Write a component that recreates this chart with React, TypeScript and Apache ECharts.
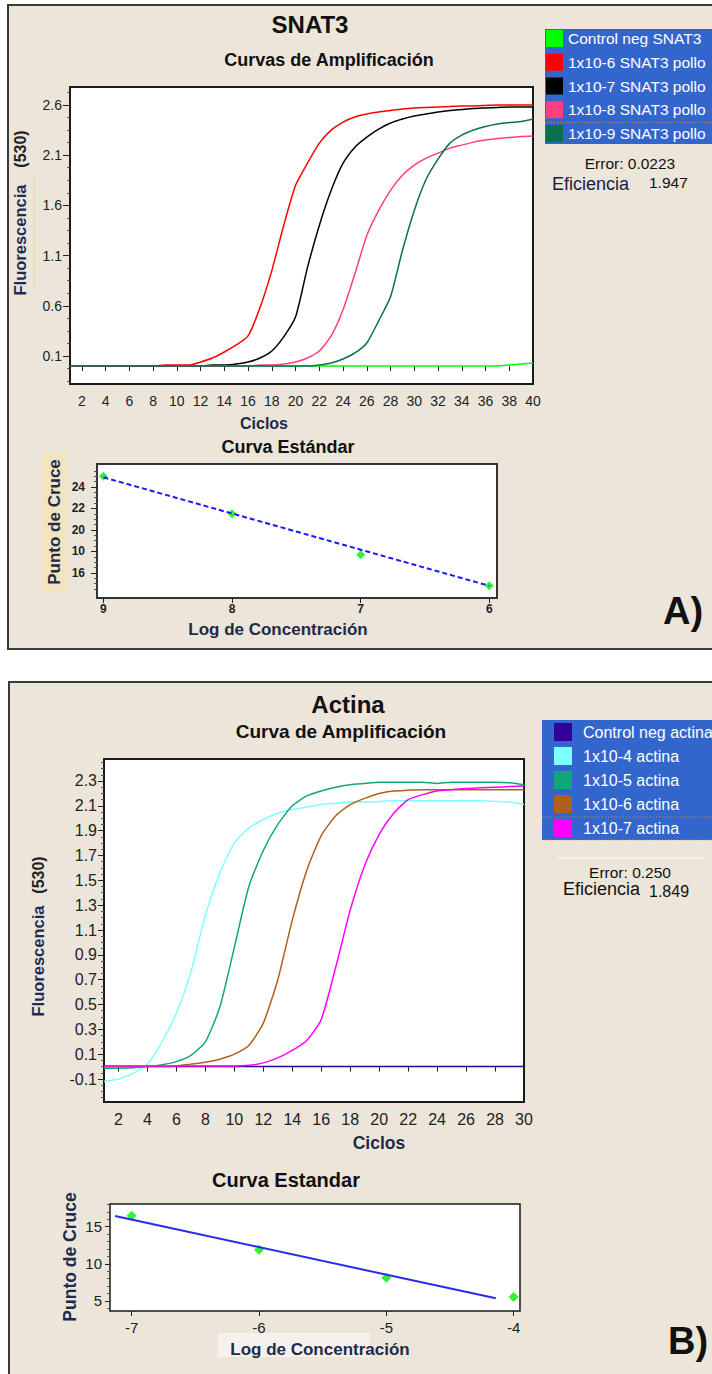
import React, { useEffect, useRef } from "react";
import * as echarts from "echarts";

const FONT = "'Liberation Sans', Arial, sans-serif";

// ---------- Panel A: SNAT3 amplification ----------
const cyclesA = [1, 2, 3, 4, 5, 6, 7, 8, 9, 10, 11, 12, 13, 14, 15, 16, 17, 18, 19, 20, 21, 22, 23, 24, 25, 26, 27, 28, 29, 30, 31, 32, 33, 34, 35, 36, 37, 38, 39, 40];
const ctrlNegSnat3 = [0, 0, 0, 0, 0, 0, 0, 0, 0, 0, 0, 0, 0, 0, 0, 0, 0, 0, 0, 0, 0, 0, 0, 0, 0, 0, 0, 0, 0, 0, 0, 0, 0, 0, 0, 0, 0, 0.01, 0.02, 0.03];
const snat3_e6 = [0, 0, 0, 0, 0, 0, 0, 0, 0.01, 0.01, 0.01, 0.04, 0.08, 0.14, 0.21, 0.3, 0.58, 0.95, 1.4, 1.8, 2.02, 2.22, 2.35, 2.43, 2.48, 2.51, 2.53, 2.545, 2.56, 2.57, 2.575, 2.58, 2.585, 2.59, 2.59, 2.595, 2.6, 2.6, 2.6, 2.6];
const snat3_e7 = [0, 0, 0, 0, 0, 0, 0, 0, 0, 0, 0, 0, 0.01, 0.01, 0.02, 0.04, 0.08, 0.15, 0.29, 0.49, 0.98, 1.4, 1.75, 2.02, 2.18, 2.28, 2.36, 2.42, 2.46, 2.49, 2.51, 2.53, 2.545, 2.555, 2.565, 2.57, 2.575, 2.58, 2.58, 2.58];
const snat3_e8 = [0, 0, 0, 0, 0, 0, 0, 0, 0, 0, 0, 0, 0, 0, 0, 0, 0.01, 0.01, 0.02, 0.04, 0.08, 0.15, 0.3, 0.56, 0.92, 1.3, 1.55, 1.75, 1.9, 2.0, 2.07, 2.12, 2.17, 2.2, 2.23, 2.25, 2.265, 2.275, 2.285, 2.29];
const snat3_e9 = [0, 0, 0, 0, 0, 0, 0, 0, 0, 0, 0, 0, 0, 0, 0, 0, 0, 0, 0, 0, 0, 0.01, 0.03, 0.07, 0.13, 0.23, 0.45, 0.69, 1.15, 1.55, 1.86, 2.06, 2.22, 2.3, 2.35, 2.385, 2.41, 2.425, 2.435, 2.46];
const namesA = ["Control neg SNAT3", "1x10-6 SNAT3 pollo", "1x10-7 SNAT3 pollo", "1x10-8 SNAT3 pollo", "1x10-9 SNAT3 pollo"];
const colorsA = ["#00ff00", "#ff0000", "#000000", "#ff3d85", "#0b7050"];
const xTicksA = [2, 4, 6, 8, 10, 12, 14, 16, 18, 20, 22, 24, 26, 28, 30, 32, 34, 36, 38, 40];
const yTicksA = [0.1, 0.6, 1.1, 1.6, 2.1, 2.6];

// ---------- Panel A: standard curve ----------
const stdA_logConc = [9, 8, 7, 6];
const stdA_cp = [25.0, 21.5, 17.7, 14.8];
const stdA_fitX = [9, 6];
const stdA_fitY = [24.9, 14.8];
const stdA_xTicks = [6, 7, 8, 9];
const stdA_yTicks = [16, 18, 20, 22, 24];
const stdA_yLabels = ["16", "10", "20", "22", "24"];

// ---------- Panel B: Actina amplification ----------
const cyclesB = [1, 2, 3, 4, 5, 6, 7, 8, 9, 10, 11, 12, 13, 14, 15, 16, 17, 18, 19, 20, 21, 22, 23, 24, 25, 26, 27, 28, 29, 30];
const ctrlNegActina = [0, 0, 0, 0, 0, 0, 0, 0, 0, 0, 0, 0, 0, 0, 0, 0, 0, 0, 0, 0, 0, 0, 0, 0, 0, 0, 0, 0, 0, 0];
const actina_e4 = [-0.12, -0.1, -0.055, 0.02, 0.2, 0.43, 0.76, 1.22, 1.56, 1.8, 1.92, 1.99, 2.04, 2.07, 2.09, 2.11, 2.12, 2.13, 2.13, 2.135, 2.14, 2.14, 2.14, 2.14, 2.14, 2.14, 2.14, 2.135, 2.13, 2.11];
const actina_e5 = [-0.014, -0.014, -0.01, 0.0, 0.015, 0.04, 0.09, 0.2, 0.48, 0.96, 1.45, 1.74, 1.95, 2.1, 2.18, 2.22, 2.25, 2.27, 2.28, 2.29, 2.29, 2.29, 2.29, 2.28, 2.29, 2.29, 2.29, 2.29, 2.285, 2.27];
const actina_e6 = [0, 0, 0, 0, 0, 0.005, 0.02, 0.035, 0.06, 0.1, 0.17, 0.35, 0.7, 1.18, 1.58, 1.86, 2.02, 2.11, 2.16, 2.2, 2.22, 2.225, 2.23, 2.23, 2.23, 2.23, 2.23, 2.23, 2.23, 2.23];
const actina_e7 = [0.005, 0.005, 0.005, 0.005, 0.005, 0.005, 0.005, 0.005, 0.005, 0.005, 0.01, 0.03, 0.07, 0.13, 0.21, 0.38, 0.8, 1.26, 1.62, 1.87, 2.04, 2.15, 2.19, 2.22, 2.23, 2.24, 2.245, 2.25, 2.255, 2.26];
const namesB = ["Control neg actina", "1x10-4 actina", "1x10-5 actina", "1x10-6 actina", "1x10-7 actina"];
const colorsB = ["#330099", "#80ffff", "#10a878", "#b0601c", "#ff00ff"];
const xTicksB = [2, 4, 6, 8, 10, 12, 14, 16, 18, 20, 22, 24, 26, 28, 30];
const yTicksB = [-0.1, 0.1, 0.3, 0.5, 0.7, 0.9, 1.1, 1.3, 1.5, 1.7, 1.9, 2.1, 2.3];

// ---------- Panel B: standard curve ----------
const stdB_logConc = [-7, -6, -5, -4];
const stdB_cp = [16.5, 11.9, 8.1, 5.5];
const stdB_fitX = [-7.13, -4.14];
const stdB_fitY = [16.45, 5.33];
const stdB_xTicks = [-7, -6, -5, -4];
const stdB_yTicks = [5, 10, 15];

const zip = (xs: number[], ys: number[]) => xs.map((x, i) => [x, ys[i]]);

function minorTicks(start: number, step: number, min: number, max: number, every: number) {
  const out: number[] = [];
  for (let k = -200; k <= 200; k++) {
    if (k % every === 0) continue;
    const v = +(start + k * step).toFixed(4);
    if (v > min && v < max) out.push(v);
  }
  return out;
}

const tickColor = "#222";

function valueX(gridIndex: number, min: number, max: number, ticks: number[], opts: any = {}) {
  return {
    gridIndex, type: "value", min, max, inverse: !!opts.inverse,
    axisLine: { show: false },
    splitLine: { show: false },
    axisTick: { customValues: ticks, length: opts.tickLen ?? 5, lineStyle: { color: tickColor } },
    axisLabel: {
      customValues: ticks, margin: opts.margin ?? 8, fontSize: opts.fontSize ?? 14,
      fontWeight: opts.fontWeight ?? "normal",
      color: tickColor, fontFamily: FONT,
      formatter: opts.formatter ?? ((v: number) => String(v)),
    },
  };
}

function valueY(gridIndex: number, min: number, max: number, ticks: number[], opts: any = {}) {
  return {
    gridIndex, type: "value", min, max, position: "left",
    axisLine: { show: false },
    splitLine: { show: false },
    axisTick: { customValues: ticks, length: opts.tickLen ?? 6, lineStyle: { color: tickColor } },
    axisLabel: {
      customValues: ticks, margin: opts.margin ?? 8, fontSize: opts.fontSize ?? 14,
      fontWeight: opts.fontWeight ?? "normal",
      color: tickColor, fontFamily: FONT,
      formatter: opts.formatter ?? ((v: number) => String(v)),
    },
  };
}

function minorY(gridIndex: number, min: number, max: number, ticks: number[]) {
  return {
    gridIndex, type: "value", min, max, position: "left", offset: 0,
    axisLine: { show: false },
    splitLine: { show: false },
    axisLabel: { show: false },
    axisTick: { customValues: ticks, length: 3, lineStyle: { color: "#555" } },
  };
}

function lineSeries(name: string, xs: number[], ys: number[], color: string, xi: number, yi: number) {
  return {
    type: "line", name, xAxisIndex: xi, yAxisIndex: yi,
    data: zip(xs, ys), showSymbol: false, symbol: "none",
    smooth: 0.2,
    color, itemStyle: { color }, lineStyle: { color, width: 1.5 },
  };
}

const A_Y_MIN = -0.179, A_Y_MAX = 2.779;
const B_Y_MIN = -0.285, B_Y_MAX = 2.477;
const SA_Y_MIN = 13.67, SA_Y_MAX = 26.14;
const SB_Y_MIN = 3.62, SB_Y_MAX = 18.07;

const txt = (text: string, x: number, y: number, size: number, opts: any = {}) => ({
  type: "text", x, y, z: 100, rotation: opts.rotation ?? 0,
  style: {
    text, fontSize: size, fontWeight: opts.weight ?? "bold", fontFamily: FONT,
    fill: opts.color ?? "#111", textAlign: opts.align ?? "center", textVerticalAlign: "middle",
  },
});

const option: any = {
  animation: false,
  backgroundColor: "#ffffff",
  grid: [
    { left: 70, top: 87, width: 463, height: 297, show: true, backgroundColor: "#fff", borderColor: "#1a1a1a", borderWidth: 2, containLabel: false, outerBoundsMode: "none" },
    { left: 97, top: 464, width: 400, height: 134, show: true, backgroundColor: "#fff", borderColor: "#333", borderWidth: 2, containLabel: false, outerBoundsMode: "none" },
    { left: 104, top: 759, width: 420, height: 343, show: true, backgroundColor: "#fff", borderColor: "#1a1a1a", borderWidth: 2, containLabel: false, outerBoundsMode: "none" },
    { left: 110, top: 1204, width: 410, height: 107, show: true, backgroundColor: "#fff", borderColor: "#1a1a1a", borderWidth: 1.5, containLabel: false, outerBoundsMode: "none" },
  ],
  xAxis: [
    valueX(0, 1, 40, xTicksA, { margin: 10, fontSize: 14 }),
    valueX(1, 5.94, 9.05, stdA_xTicks, { inverse: true, margin: 5, fontSize: 12, fontWeight: "bold" }),
    valueX(2, 1, 30, xTicksB, { margin: 9, fontSize: 16 }),
    valueX(3, -7.17, -3.95, stdB_xTicks, { margin: 9, fontSize: 15 }),
  ],
  yAxis: [
    valueY(0, A_Y_MIN, A_Y_MAX, yTicksA, { margin: 8, fontSize: 14, tickLen: 7, formatter: (v: number) => v.toFixed(1) }),
    minorY(0, A_Y_MIN, A_Y_MAX, minorTicks(0.1, 0.125, A_Y_MIN, A_Y_MAX, 4)),
    valueY(1, SA_Y_MIN, SA_Y_MAX, stdA_yTicks, {
      margin: 12, fontSize: 12, fontWeight: "bold",
      formatter: (v: number) => stdA_yLabels[stdA_yTicks.indexOf(Math.round(v))] ?? String(v),
    }),
    minorY(1, SA_Y_MIN, SA_Y_MAX, minorTicks(16, 0.5, SA_Y_MIN, SA_Y_MAX, 4)),
    valueY(2, B_Y_MIN, B_Y_MAX, yTicksB, { margin: 7, fontSize: 16, tickLen: 6, formatter: (v: number) => v.toFixed(1) }),
    minorY(2, B_Y_MIN, B_Y_MAX, minorTicks(0.1, 0.05, B_Y_MIN, B_Y_MAX, 4)),
    valueY(3, SB_Y_MIN, SB_Y_MAX, stdB_yTicks, { margin: 8, fontSize: 15, tickLen: 5 }),
    minorY(3, SB_Y_MIN, SB_Y_MAX, minorTicks(5, 1, SB_Y_MIN, SB_Y_MAX, 5)),
  ],
  legend: [
    {
      data: namesA, orient: "vertical", left: 545, top: 29, padding: [1, 80, 2, 1],
      itemWidth: 17, itemHeight: 17, itemGap: 6.75, icon: "rect", selectedMode: false,
      backgroundColor: "#3366cc",
      textStyle: { color: "#ffffff", fontSize: 15.5, fontFamily: FONT, lineHeight: 17 },
    },
    {
      data: namesB, orient: "vertical", left: 542, top: 720, padding: [3, 80, 3, 12],
      itemWidth: 18, itemHeight: 18, itemGap: 6, icon: "rect", selectedMode: false,
      backgroundColor: "#3366cc",
      textStyle: { color: "#ffffff", fontSize: 16, fontFamily: FONT, lineHeight: 18, padding: [0, 0, 0, 6] },
    },
  ],
  series: [
    lineSeries(namesA[0], cyclesA, ctrlNegSnat3, colorsA[0], 0, 0),
    lineSeries(namesA[1], cyclesA, snat3_e6, colorsA[1], 0, 0),
    lineSeries(namesA[2], cyclesA, snat3_e7, colorsA[2], 0, 0),
    lineSeries(namesA[3], cyclesA, snat3_e8, colorsA[3], 0, 0),
    lineSeries(namesA[4], cyclesA, snat3_e9, colorsA[4], 0, 0),
    {
      type: "line", name: "Ajuste A", xAxisIndex: 1, yAxisIndex: 2, data: zip(stdA_fitX, stdA_fitY),
      showSymbol: false, symbol: "none", lineStyle: { color: "#1a1aff", width: 2, type: [5, 3] },
    },
    {
      type: "scatter", name: "Estándares A", xAxisIndex: 1, yAxisIndex: 2, data: zip(stdA_logConc, stdA_cp),
      symbol: "diamond", symbolSize: 9, itemStyle: { color: "#00ee00" },
    },
    lineSeries(namesB[0], cyclesB, ctrlNegActina, colorsB[0], 2, 4),
    lineSeries(namesB[1], cyclesB, actina_e4, colorsB[1], 2, 4),
    lineSeries(namesB[2], cyclesB, actina_e5, colorsB[2], 2, 4),
    lineSeries(namesB[3], cyclesB, actina_e6, colorsB[3], 2, 4),
    lineSeries(namesB[4], cyclesB, actina_e7, colorsB[4], 2, 4),
    {
      type: "line", name: "Ajuste B", xAxisIndex: 3, yAxisIndex: 6, data: zip(stdB_fitX, stdB_fitY),
      showSymbol: false, symbol: "none", lineStyle: { color: "#2a2aee", width: 2 },
    },
    {
      type: "scatter", name: "Estándares B", xAxisIndex: 3, yAxisIndex: 6, data: zip(stdB_logConc, stdB_cp),
      symbol: "diamond", symbolSize: 10, itemStyle: { color: "#00ee00" },
    },
  ],
  graphic: {
    elements: [
      // panels
      { type: "rect", z: -10, shape: { x: 8, y: 5, width: 720, height: 644 }, style: { fill: "#ece5da", stroke: "#3a3a3a", lineWidth: 2 } },
      { type: "rect", z: -10, shape: { x: 9, y: 682, width: 720, height: 720 }, style: { fill: "#ece5da", stroke: "#3a3a3a", lineWidth: 2 } },
      // decorative highlight boxes
      { type: "rect", z: -5, shape: { x: 42, y: 452, width: 25, height: 140 }, style: { fill: "#f2e4bf" } },
      { type: "rect", z: -5, shape: { x: 218, y: 1333, width: 152, height: 24 }, style: { fill: "#f5f2ee" } },
      { type: "line", z: -5, shape: { x1: 34, y1: 173, x2: 34, y2: 290 }, style: { stroke: "#eadca0", lineWidth: 1 } },
      // legend separators
      { type: "line", z: 50, shape: { x1: 545, y1: 122.5, x2: 712, y2: 122.5 }, style: { stroke: "#c89040", lineWidth: 1, lineDash: [1, 2] } },
      { type: "line", z: 50, shape: { x1: 542, y1: 817, x2: 712, y2: 817 }, style: { stroke: "#c89040", lineWidth: 1, lineDash: [1, 2] } },
      { type: "line", z: 50, shape: { x1: 542, y1: 840, x2: 712, y2: 840 }, style: { stroke: "#c89040", lineWidth: 1, lineDash: [1, 2] } },
      { type: "line", z: -5, shape: { x1: 557, y1: 858, x2: 706, y2: 858 }, style: { stroke: "#f8f5f0", lineWidth: 1.5 } },
      // Panel A texts
      txt("SNAT3", 310, 24, 24),
      txt("Curvas de Amplificación", 329, 60, 18),
      txt("Fluorescencia", 20, 240, 16.5, { rotation: Math.PI / 2, color: "#1e2c55" }),
      txt("(530)", 20, 149, 16, { rotation: Math.PI / 2, color: "#222" }),
      txt("Ciclos", 264, 423, 16, { color: "#1f2a4a" }),
      txt("Curva Estándar", 288, 447, 18),
      txt("Punto de Cruce", 54, 522, 17, { rotation: Math.PI / 2, color: "#1f2a4a" }),
      txt("Log de Concentración", 278, 629, 17, { color: "#1f2a4a" }),
      txt("Error: 0.0223", 630, 163, 15.5, { weight: "normal" }),
      txt("Eficiencia", 552, 184, 18, { weight: "normal", align: "left", color: "#1a2040" }),
      txt("1.947", 649, 182, 15.5, { weight: "normal", align: "left" }),
      txt("A)", 683, 611, 38),
      // Panel B texts
      txt("Actina", 348, 704, 24),
      txt("Curva de Amplificación", 341, 731, 19),
      txt("Fluorescencia", 38, 961, 16.5, { rotation: Math.PI / 2, color: "#1e2c55" }),
      txt("(530)", 38, 875, 16, { rotation: Math.PI / 2, color: "#222" }),
      txt("Ciclos", 379, 1143, 17.5, { color: "#1f2a4a" }),
      txt("Curva Estandar", 286, 1180, 20),
      txt("Punto de Cruce", 70, 1257, 17.5, { rotation: Math.PI / 2, color: "#1f2a4a" }),
      txt("Log de Concentración", 320, 1349, 17, { color: "#1f2a4a" }),
      txt("Error: 0.250", 630, 872, 15.5, { weight: "normal" }),
      txt("Eficiencia", 563, 889, 18, { weight: "normal", align: "left" }),
      txt("1.849", 649, 891, 16, { weight: "normal", align: "left" }),
      txt("B)", 688, 1341, 38),
    ],
  },
};

export default function App() {
  const ref = useRef<HTMLDivElement>(null);
  useEffect(() => {
    if (!ref.current) return;
    const chart = echarts.init(ref.current, null, { renderer: "svg" });
    chart.setOption(option);
    return () => chart.dispose();
  }, []);
  return (
    <div
      ref={ref}
      style={{ position: "absolute", left: 0, top: 0, width: 712, height: 1374, background: "#fff" }}
    />
  );
}
